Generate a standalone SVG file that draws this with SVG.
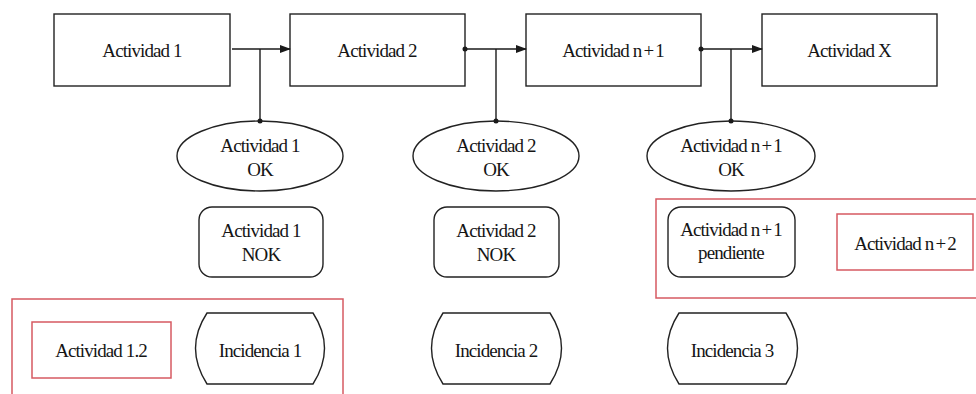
<svg xmlns="http://www.w3.org/2000/svg" width="976" height="394" viewBox="0 0 976 394">
  <defs>
    <marker id="arrow" markerWidth="11" markerHeight="8" refX="10" refY="4" orient="auto" markerUnits="userSpaceOnUse">
      <path d="M0,0 L11,4 L0,8 Z" fill="#1a1a1a"/>
    </marker>
    <style>
      .shape { fill: #ffffff; stroke: #222222; stroke-width: 1.4; }
      .red { fill: none; stroke: #d65a62; stroke-width: 1.5; }
      .line { fill: none; stroke: #1a1a1a; stroke-width: 1.4; }
      .dot { fill: #1a1a1a; }
      text { font-family: "Liberation Serif", "DejaVu Serif", serif; font-size: 19px; fill: #151515; text-anchor: middle; letter-spacing: -0.9px; }
    </style>
  </defs>

  <!-- grouping frames -->
  <g id="frame-right">
    <rect class="red" x="656" y="199" width="330" height="99"/>
  </g>
  <g id="frame-left">
    <rect class="red" x="12" y="299" width="331" height="110"/>
  </g>

  <!-- main flow -->
  <g id="act1">
    <rect class="shape" x="54" y="14" width="176" height="72"/>
    <text x="142" y="57">Actividad 1</text>
  </g>
  <g id="act2">
    <rect class="shape" x="290" y="14" width="175" height="72"/>
    <text x="377" y="57">Actividad 2</text>
  </g>
  <g id="actn1">
    <rect class="shape" x="526" y="14" width="175" height="72"/>
    <text x="613" y="57">Actividad n<tspan dx="2">+</tspan><tspan dx="2">1</tspan></text>
  </g>
  <g id="actX">
    <rect class="shape" x="762" y="14" width="175" height="72"/>
    <text x="849" y="57">Actividad X</text>
  </g>

  <!-- OK outcomes -->
  <g id="ok1">
    <ellipse class="shape" cx="260" cy="156" rx="83" ry="35"/>
    <text x="260" y="152">Actividad 1</text>
    <text x="260" y="176">OK</text>
  </g>
  <g id="ok2">
    <ellipse class="shape" cx="496" cy="156" rx="83" ry="35"/>
    <text x="496" y="152">Actividad 2</text>
    <text x="496" y="176">OK</text>
  </g>
  <g id="okn1">
    <ellipse class="shape" cx="731" cy="156" rx="84" ry="35"/>
    <text x="731" y="152">Actividad n<tspan dx="2">+</tspan><tspan dx="2">1</tspan></text>
    <text x="731" y="176">OK</text>
  </g>

  <!-- NOK / pending states -->
  <g id="nok1">
    <rect class="shape" x="199" y="207" width="124" height="70" rx="13"/>
    <text x="261" y="237">Actividad 1</text>
    <text x="261" y="261">NOK</text>
  </g>
  <g id="nok2">
    <rect class="shape" x="434" y="207" width="125" height="70" rx="13"/>
    <text x="496" y="237">Actividad 2</text>
    <text x="496" y="261">NOK</text>
  </g>
  <g id="pendn1">
    <rect class="shape" x="668" y="207" width="127" height="70" rx="13"/>
    <text x="731" y="236">Actividad n<tspan dx="2">+</tspan><tspan dx="2">1</tspan></text>
    <text x="731" y="259">pendiente</text>
  </g>
  <g id="actn2">
    <rect class="red" x="837" y="214" width="136" height="56"/>
    <text x="905" y="250">Actividad n<tspan dx="2">+</tspan><tspan dx="2">2</tspan></text>
  </g>

  <!-- incidents -->
  <g id="act12">
    <rect class="red" x="32" y="322" width="139" height="56"/>
    <text x="101" y="357">Actividad 1.2</text>
  </g>
  <g id="inc1">
    <path class="shape" d="M207,313 L313,313 Q336,348 313,384 L207,384 Q184,348 207,313 Z"/>
    <text x="260" y="357">Incidencia 1</text>
  </g>
  <g id="inc2">
    <path class="shape" d="M443,313 L550,313 Q573,348 550,384 L443,384 Q420,348 443,313 Z"/>
    <text x="496" y="357">Incidencia 2</text>
  </g>
  <g id="inc3">
    <path class="shape" d="M679,313 L786,313 Q809,348 786,384 L679,384 Q656,348 679,313 Z"/>
    <text x="732" y="357">Incidencia 3</text>
  </g>

  <!-- connectors -->
  <g id="connectors">
    <line class="line" x1="232" y1="49" x2="290" y2="49" marker-end="url(#arrow)"/>
    <line class="line" x1="260" y1="49" x2="260" y2="121"/>
    <circle class="dot" cx="260" cy="121" r="2.5"/>

    <line class="line" x1="465" y1="49" x2="526" y2="49" marker-end="url(#arrow)"/>
    <circle class="dot" cx="465" cy="49" r="2.5"/>
    <line class="line" x1="496" y1="49" x2="496" y2="121"/>
    <circle class="dot" cx="496" cy="121" r="2.5"/>

    <line class="line" x1="701" y1="49" x2="762" y2="49" marker-end="url(#arrow)"/>
    <circle class="dot" cx="701" cy="49" r="2.5"/>
    <line class="line" x1="731" y1="49" x2="731" y2="121"/>
    <circle class="dot" cx="731" cy="121" r="2.5"/>
  </g>
</svg>
